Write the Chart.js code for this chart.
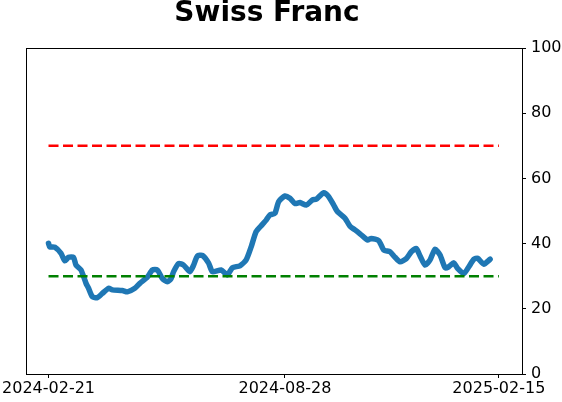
<!DOCTYPE html>
<html>
<head>
<meta charset="utf-8">
<script src="https://cdn.jsdelivr.net/npm/chart.js@4/dist/chart.umd.min.js"></script>
<style>
    html, body { margin: 0; padding: 0; background: #fff; }
    #wrap { width: 562px; height: 402px; position: relative; }
</style>
</head>
<body>
<div id="wrap"><canvas id="chart" width="562" height="402"></canvas></div>
<script>
// days since 2024-02-21
const days = [0, 1, 5, 10, 13, 16, 20, 22, 26, 30, 32, 35, 39, 43, 48, 51, 59, 63, 69, 73,
    79, 83, 87, 91, 95, 98, 100, 104, 108, 113, 116, 119, 123, 128, 131, 138, 143, 147, 153, 158,
    162, 166, 171, 174, 177, 181, 184, 189, 193, 197, 201, 206, 211, 214, 220, 224, 228, 231, 237, 241,
    245, 249, 255, 258, 264, 268, 273, 277, 281, 286, 290, 294, 297, 301, 305, 309, 313, 317, 320, 324,
    327, 332, 336, 340, 343, 348, 353];
const values = [40.1, 39.0, 38.9, 37.0, 34.7, 35.8, 35.8, 33.4, 31.9, 27.8, 26.3, 23.7, 23.4, 24.7, 26.3, 25.8, 25.6, 25.2, 26.3, 27.8,
    29.7, 31.9, 31.9, 29.3, 28.3, 29.3, 31.4, 33.9, 33.4, 31.4, 33.4, 36.2, 36.4, 34.0, 31.4, 31.9, 30.4, 32.6, 33.2, 35.0,
    39.0, 43.7, 45.9, 47.2, 48.8, 49.3, 52.9, 54.6, 53.9, 52.3, 52.6, 51.8, 53.4, 53.6, 55.6, 54.4, 51.8, 49.8, 47.8, 45.3,
    44.2, 43.0, 41.1, 41.6, 40.9, 38.0, 37.5, 35.8, 34.4, 35.4, 37.5, 38.5, 36.2, 33.4, 35.0, 38.3, 36.5, 32.6, 32.9, 34.1,
    32.4, 30.8, 32.9, 35.2, 35.5, 33.7, 35.2];
const tickDays = [0, 189, 360];
const tickLabels = ['2024-02-21', '2024-08-28', '2025-02-15'];
const yTicks = [0, 20, 40, 60, 80, 100];
const upperLevel = 70;
const lowerLevel = 30;
const levelSpan = [0, 360];

const frame = {
    id: 'frame',
    afterDraw(chart) {
        const { ctx, chartArea: a } = chart;
        ctx.save();
        ctx.strokeStyle = '#000';
        ctx.lineWidth = 1;
        ctx.strokeRect(a.left + 0.5, a.top + 0.5, a.right - a.left, a.bottom - a.top);
        // title
        ctx.fillStyle = '#000';
        ctx.font = 'bold 28px "DejaVu Sans"';
        ctx.textAlign = 'center';
        ctx.textBaseline = 'middle';
        ctx.fillText('Swiss Franc', 267, 14);
        ctx.restore();
    }
};

new Chart('chart', {
    type: 'line',
    data: {
        datasets: [
            {
                data: levelSpan.map(d => ({ x: d, y: upperLevel })),
                borderColor: '#ff0000',
                borderWidth: 2.5,
                borderDash: [10, 4.5],
                pointRadius: 0
            },
            {
                data: levelSpan.map(d => ({ x: d, y: lowerLevel })),
                borderColor: '#008000',
                borderWidth: 2.5,
                borderDash: [10, 4.5],
                pointRadius: 0
            },
            {
                data: days.map((d, i) => ({ x: d, y: values[i] })),
                borderColor: '#1f77b4',
                borderWidth: 5.5,
                borderCapStyle: 'round',
                borderJoinStyle: 'round',
                tension: 0.2,
                pointRadius: 0
            }
        ]
    },
    options: {
        responsive: false,
        animation: false,
        layout: { padding: { top: 48, left: 26, right: 0, bottom: 0 } },
        plugins: { legend: { display: false }, tooltip: { enabled: false }, title: { display: false } },
        scales: {
            x: {
                type: 'linear',
                min: -18,
                max: 378.5,
                afterBuildTicks: s => { s.ticks = tickDays.map(v => ({ value: v })); },
                afterFit: s => { s.height = 28; s.paddingLeft = 0; s.paddingRight = 0; },
                ticks: {
                    autoSkip: false,
                    maxRotation: 0,
                    padding: 1,
                    color: '#000',
                    font: { family: 'DejaVu Sans', size: 16 },
                    callback: v => tickLabels[tickDays.indexOf(v)]
                },
                grid: { drawOnChartArea: false, tickLength: 4, color: '#000' },
                border: { color: '#000' }
            },
            y: {
                position: 'right',
                min: 0,
                max: 100,
                afterBuildTicks: s => { s.ticks = yTicks.map(v => ({ value: v })); },
                afterFit: s => { s.width = 40; s.paddingTop = 0; s.paddingBottom = 0; },
                ticks: {
                    padding: 5,
                    color: '#000',
                    font: { family: 'DejaVu Sans', size: 16 }
                },
                grid: { drawOnChartArea: false, tickLength: 4, color: '#000' },
                border: { color: '#000' }
            }
        }
    },
    plugins: [frame]
});
</script>
</body>
</html>
